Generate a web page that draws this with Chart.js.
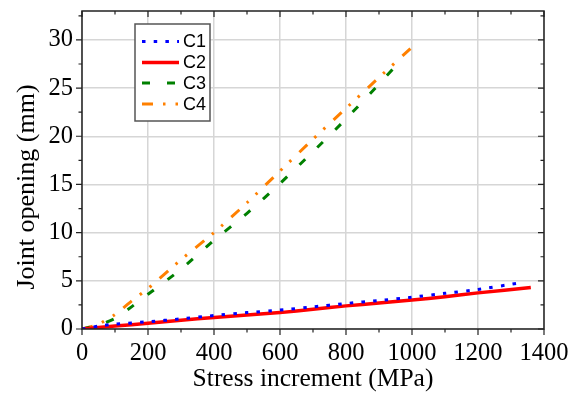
<!DOCTYPE html>
<html>
<head>
<meta charset="utf-8">
<script src="https://cdn.jsdelivr.net/npm/chart.js@4/dist/chart.umd.min.js"></script>
<style>
  html, body { margin: 0; padding: 0; background: #fff; }
  #wrap { width: 582px; height: 397px; }
</style>
</head>
<body>
<div id="wrap"><canvas id="chart" width="582" height="397"></canvas></div>
<script>
// data
const c1X = [0, 50, 100, 200, 300, 400, 500, 600, 700, 800, 900, 1000, 1100, 1200, 1320];
const c1Y = [0, 0.3, 0.5, 0.75, 1.05, 1.4, 1.7, 1.96, 2.3, 2.65, 2.95, 3.3, 3.7, 4.1, 4.75];
const c2X = [0, 100, 200, 300, 400, 500, 600, 700, 800, 900, 1000, 1100, 1200, 1360];
const c2Y = [0, 0.3, 0.6, 0.9, 1.2, 1.45, 1.7, 2.05, 2.4, 2.7, 3.0, 3.35, 3.75, 4.3];
const c3X = [0, 50, 100, 150, 200, 300, 400, 500, 600, 700, 800, 900, 945];
const c3Y = [0, 0.4, 1.1, 2.3, 3.6, 6.2, 9.2, 12.0, 15.1, 18.4, 21.8, 25.4, 27.1];
const c4X = [0, 50, 100, 150, 200, 300, 400, 500, 600, 700, 800, 900, 1005];
const c4Y = [0, 0.5, 1.5, 2.9, 4.2, 7.2, 10.0, 13.1, 16.4, 19.7, 22.9, 26.1, 29.4];
const seriesNames = ['C1', 'C2', 'C3', 'C4'];
const xTicks = [0, 100, 200, 300, 400, 500, 600, 700, 800, 900, 1000, 1100, 1200, 1300, 1400];
const yTicks = [0, 2.5, 5, 7.5, 10, 12.5, 15, 17.5, 20, 22.5, 25, 27.5, 30, 32.5];
const xTitle = 'Stress increment (MPa)';
const yTitle = 'Joint opening (mm)';

const toPoints = (xs, ys) => xs.map((x, i) => ({ x: x, y: ys[i] }));

const serif = '"Liberation Serif", "Times New Roman", serif';
const sans = '"Liberation Sans", Arial, sans-serif';

// frame, mirrored ticks, axis titles and legend
const decorations = {
  id: 'decorations',
  afterDraw(chart) {
    const ctx = chart.ctx;
    const a = chart.chartArea;
    const xs = chart.scales.x, ys = chart.scales.y;
    ctx.save();
    ctx.strokeStyle = '#222';
    ctx.lineWidth = 1.5;
    ctx.strokeRect(a.left, a.top, a.right - a.left, a.bottom - a.top);

    ctx.lineWidth = 1.2;
    ctx.beginPath();
    xs.ticks.forEach(t => {
      const px = xs.getPixelForValue(t.value);
      const len = t.value % 200 === 0 ? 6 : 3.5;
      ctx.moveTo(px, a.bottom); ctx.lineTo(px, a.bottom + len);
      ctx.moveTo(px, a.top); ctx.lineTo(px, a.top + len);
    });
    ys.ticks.forEach(t => {
      const py = ys.getPixelForValue(t.value);
      const len = t.value % 5 === 0 ? 6 : 3.5;
      ctx.moveTo(a.left, py); ctx.lineTo(a.left - len, py);
      ctx.moveTo(a.right, py); ctx.lineTo(a.right - len, py);
    });
    ctx.stroke();

    // axis titles
    ctx.fillStyle = '#000';
    ctx.textAlign = 'center';
    ctx.textBaseline = 'middle';
    ctx.font = '25.5px ' + serif;
    ctx.fillText(xTitle, (a.left + a.right) / 2, 379);
    ctx.font = '26px ' + serif;
    ctx.translate(27, 187);
    ctx.rotate(-Math.PI / 2);
    ctx.fillText(yTitle, 0, 0);
    ctx.setTransform(1, 0, 0, 1, 0, 0);

    // legend
    ctx.fillStyle = '#fff';
    ctx.fillRect(135, 24, 75, 97);
    ctx.strokeStyle = '#555';
    ctx.lineWidth = 1.5;
    ctx.strokeRect(135, 24, 75, 97);
    const rows = [41.5, 62.5, 83, 104];
    ctx.font = '18px ' + sans;
    ctx.textAlign = 'left';
    chart.data.datasets.forEach((ds, i) => {
      ctx.save();
      ctx.strokeStyle = ds.borderColor;
      ctx.lineWidth = ds.borderWidth;
      ctx.setLineDash(ds.borderDash || []);
      ctx.beginPath();
      ctx.moveTo(142, rows[i]);
      ctx.lineTo(179, rows[i]);
      ctx.stroke();
      ctx.restore();
      ctx.fillStyle = '#000';
      ctx.fillText(ds.label, 183, rows[i] + 1);
    });
    ctx.restore();
  }
};

new Chart(document.getElementById('chart'), {
  type: 'line',
  data: {
    datasets: [
      { label: seriesNames[0], data: toPoints(c1X, c1Y), borderColor: '#0000ff', borderWidth: 3, borderDash: [3.5, 8.2] },
      { label: seriesNames[1], data: toPoints(c2X, c2Y), borderColor: '#ff0000', borderWidth: 3.5 },
      { label: seriesNames[2], data: toPoints(c3X, c3Y), borderColor: '#008000', borderWidth: 3, borderDash: [8, 17] },
      { label: seriesNames[3], data: toPoints(c4X, c4Y), borderColor: '#ff8000', borderWidth: 3, borderDash: [11, 10, 2.5, 10, 2.5, 11] }
    ]
  },
  options: {
    responsive: false,
    animation: false,
    events: [],
    layout: { padding: { left: 0, right: 38, top: 11, bottom: 0 } },
    elements: { point: { radius: 0 }, line: { tension: 0.2, borderCapStyle: 'butt' } },
    plugins: { legend: { display: false }, tooltip: { enabled: false } },
    scales: {
      x: {
        type: 'linear',
        min: 0, max: 1400,
        bounds: 'data',
        border: { display: false },
        afterBuildTicks: s => { s.ticks = xTicks.map(v => ({ value: v })); },
        grid: {
          drawTicks: false,
          lineWidth: 1.5,
          color: c => (c.tick && c.tick.value % 200 === 0) ? '#d6d6d6' : 'rgba(0,0,0,0)'
        },
        ticks: {
          autoSkip: false, maxRotation: 0, padding: 10,
          color: '#000', font: { family: serif, size: 24.5 },
          callback: v => v % 200 === 0 ? String(v) : ''
        },
        afterFit: s => { s.height = 68; s.paddingLeft = 0; s.paddingRight = 0; }
      },
      y: {
        type: 'linear',
        min: 0, max: 33,
        bounds: 'data',
        border: { display: false },
        afterBuildTicks: s => { s.ticks = yTicks.map(v => ({ value: v })); },
        grid: {
          drawTicks: false,
          lineWidth: 1.5,
          color: c => (c.tick && c.tick.value % 5 === 0) ? '#d6d6d6' : 'rgba(0,0,0,0)'
        },
        ticks: {
          autoSkip: false, padding: 9,
          color: '#000', font: { family: serif, size: 24.5 },
          callback: v => v % 5 === 0 ? String(v) : ''
        },
        afterFit: s => { s.width = 82; s.paddingTop = 0; s.paddingBottom = 0; }
      }
    }
  },
  plugins: [decorations]
});
</script>
</body>
</html>
